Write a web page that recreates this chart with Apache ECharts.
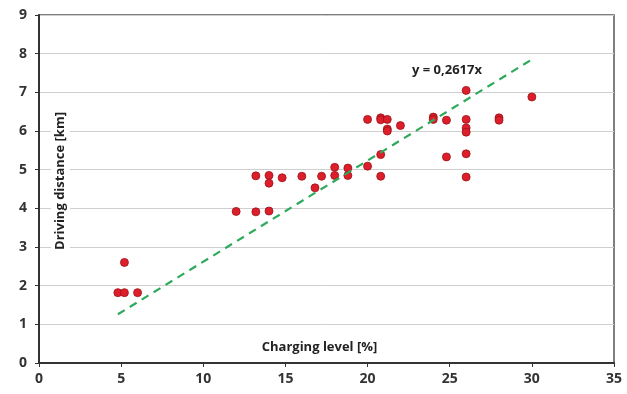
<!DOCTYPE html>
<html>
<head>
<meta charset="utf-8">
<script src="https://cdn.jsdelivr.net/npm/echarts@6/dist/echarts.min.js"></script>
<style>
  html, body { margin: 0; padding: 0; background: #fff; }
  #chart { width: 627px; height: 394px; }
</style>
</head>
<body>
<div id="chart"></div>
<script>
// charging level [%] and driving distance [km] for each measurement
const chargeLevel = [
  4.8, 5.2, 5.2, 6.0, 12.0, 13.2, 14.0, 13.2, 14.0, 14.0,
  14.8, 16.0, 16.8, 17.2, 18.0, 18.0, 18.8, 18.8, 20.0, 20.0,
  20.8, 20.8, 21.2, 21.2, 21.2, 22.0, 20.8, 20.8, 24.0, 24.0,
  24.8, 24.8, 26.0, 26.0, 26.0, 26.0, 26.0, 26.0, 28.0, 28.0,
  30.0
];
const distance = [
  1.82, 1.82, 2.6, 1.82, 3.92, 3.91, 3.93, 4.84, 4.85, 4.65,
  4.79, 4.83, 4.53, 4.83, 5.06, 4.85, 5.04, 4.85, 5.09, 6.3,
  6.34, 6.29, 6.3, 6.05, 6.0, 6.14, 5.39, 4.83, 6.36, 6.3,
  6.28, 5.33, 7.05, 6.3, 6.08, 5.97, 5.41, 4.81, 6.34, 6.28,
  6.88
];
// linear trend through origin, y = 0,2617x (drawn from first to last x)
const trendX = [4.8, 30];
const trendY = [1.26, 7.85];
const equationText = 'y = 0,2617x';

const xTicks = [0, 5, 10, 15, 20, 25, 30, 35];
const yTicks = [0, 1, 2, 3, 4, 5, 6, 7, 8, 9];

const font = '"Open Sans", sans-serif';

const chart = echarts.init(document.getElementById('chart'));

const option = {
  animation: false,
  textStyle: { fontFamily: font },
  title: {
    text: equationText,
    left: 407,
    top: 59,
    textStyle: { fontSize: 13, fontWeight: 'bold', color: '#222', fontFamily: font },
  },
  grid: {
    left: 39,
    right: 13,
    top: 15,
    bottom: 31,
    outerBoundsMode: 'none',
    containLabel: false,
    show: true,
    borderColor: '#555',
    borderWidth: 1.5,
  },
  xAxis: {
    type: 'value',
    min: xTicks[0],
    max: xTicks[xTicks.length - 1],
    interval: 5,
    name: 'Charging level [%]',
    nameLocation: 'middle',
    nameGap: -22,
    nameMoveOverlap: false,
    nameTextStyle: { fontSize: 13, fontWeight: 'bold', color: '#222', padding: [0, 14, 0, 0] },
    axisLine: { show: true, lineStyle: { color: '#333', width: 2 } },
    axisTick: { show: true, length: 4, lineStyle: { color: '#333' } },
    axisLabel: { fontSize: 14, fontWeight: 'bold', color: '#333', margin: 9 },
    splitLine: { show: false },
  },
  yAxis: {
    type: 'value',
    min: yTicks[0],
    max: yTicks[yTicks.length - 1],
    interval: 1,
    name: 'Driving distance [km]',
    nameLocation: 'middle',
    nameGap: -31,
    nameRotate: 90,
    nameMoveOverlap: false,
    nameTextStyle: {
      fontSize: 13,
      fontWeight: 'bold',
      color: '#222',
      backgroundColor: '#fff',
      padding: [3, 4, 3, 20],
    },
    axisLine: { show: true, lineStyle: { color: '#333', width: 2 } },
    axisTick: { show: true, length: 4, lineStyle: { color: '#333' } },
    axisLabel: { fontSize: 14, fontWeight: 'bold', color: '#333', margin: 12 },
    splitLine: { show: true, lineStyle: { color: '#cfcfcf', width: 1 } },
  },
  series: [
    {
      type: 'line',
      data: trendX.map((x, i) => [x, trendY[i]]),
      symbol: 'none',
      lineStyle: { color: '#2eaa5c', width: 2.2, type: [8, 6] },
      z: 3,
    },
    {
      type: 'scatter',
      data: chargeLevel.map((x, i) => [x, distance[i]]),
      symbolSize: 8,
      itemStyle: { color: '#dc1f2a', borderColor: '#9c1018', borderWidth: 0.8, opacity: 1 },
      z: 2,
    },
  ],
};

chart.setOption(option);
</script>
</body>
</html>
